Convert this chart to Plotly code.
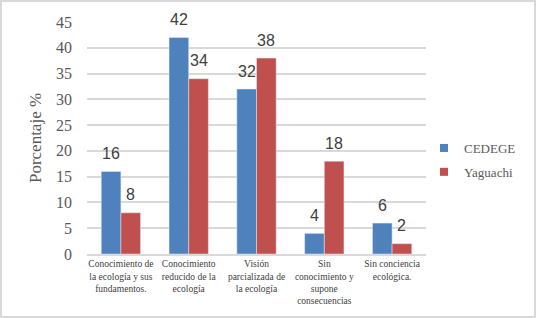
import plotly.graph_objects as go

categories = [
    "Conocimiento de<br>la ecología y sus<br>fundamentos.",
    "Conocimiento<br>reducido de la<br>ecología",
    "Visión<br>parcializada de<br>la ecología",
    "Sin<br>conocimiento y<br>supone<br>consecuencias",
    "Sin conciencia<br>ecológica.",
]
series_names = ["CEDEGE", "Yaguachi"]
cedege = [16, 42, 32, 4, 6]
yaguachi = [8, 34, 38, 18, 2]
y_ticks = [0, 5, 10, 15, 20, 25, 30, 35, 40, 45]

W, H = 536, 318
L, R, T, B = 87, 110, 22, 64
pw, ph = W - L - R, H - T - B
bargap = 0.42
bar_px = pw / len(categories) * (1 - bargap) / 2
colors = ["#4F81BD", "#C0504D"]

serif = "Liberation Serif, DejaVu Serif, serif"
sans = "Liberation Sans, Arial, sans-serif"

fig = go.Figure()
for name, vals, col in zip(series_names, (cedege, yaguachi), colors):
    fig.add_trace(go.Bar(name=name, x=categories, y=vals, marker_color=col, showlegend=False))
for i, (name, col) in enumerate(zip(series_names, colors)):
    fig.add_trace(go.Scatter(name=name, x=[None], y=[None], mode="markers",
                             marker=dict(symbol="square", size=8, color=col),
                             legendgroup=f"g{i}", showlegend=True))

for vals, shift in ((cedege, -bar_px / 2), (yaguachi, bar_px / 2)):
    for c, v in zip(categories, vals):
        fig.add_annotation(x=c, y=v, text=str(v), showarrow=False,
                           xshift=shift, yshift=18, yanchor="middle",
                           font=dict(family=sans, size=16, color="#404040"))

def px(x):
    return (x - L) / pw

def py(y):
    return 1 - (y - T) / ph

fig.add_shape(type="rect", xref="paper", yref="paper",
              x0=px(1), x1=px(535), y0=py(1), y1=py(317),
              line=dict(color="#D9D9D9", width=2), fillcolor="rgba(0,0,0,0)", layer="below")

fig.update_layout(
    width=W, height=H,
    margin=dict(l=L, r=R, t=T, b=B, autoexpand=False),
    paper_bgcolor="white", plot_bgcolor="white",
    barmode="group", bargap=bargap, bargroupgap=0,
    showlegend=True,
    legend=dict(x=px(424), y=py(160), xanchor="left", yanchor="middle",
                font=dict(family=serif, size=13, color="#595959"),
                tracegroupgap=4, itemwidth=30, bgcolor="rgba(0,0,0,0)"),
    xaxis=dict(
        showgrid=False, showline=True, linecolor="#D9D9D9", linewidth=1.5,
        tickfont=dict(family=serif, size=9.5, color="#404040"),
        ticks="", tickangle=0, automargin=False,
    ),
    yaxis=dict(
        range=[0, 45], tickvals=y_ticks, showgrid=True, gridcolor="#D9D9D9",
        gridwidth=1.5, zeroline=False, showline=False, automargin=False,
        tickfont=dict(family=serif, size=16, color="#595959"),
        ticklabelstandoff=14,
        title=dict(text="Porcentaje %", font=dict(family=serif, size=17, color="#595959"), standoff=10),
    ),
)

fig.write_html("out.html", config={"displayModeBar": False},
               post_script="document.body.style.margin='0';document.body.style.overflow='hidden';")
